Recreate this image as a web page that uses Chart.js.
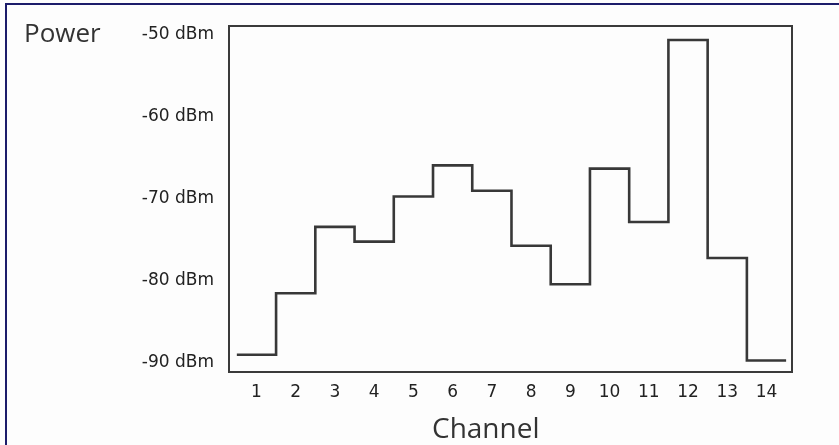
<!DOCTYPE html>
<html>
<head>
<meta charset="utf-8">
<script src="https://cdn.jsdelivr.net/npm/chart.js@4.4.0/dist/chart.umd.min.js"></script>
<style>
  html, body { margin: 0; padding: 0; background: #fdfdfd; }
  #wrap { position: relative; width: 839px; height: 445px; overflow: hidden; background: #fdfdfd; }
  #frame { position: absolute; left: 5px; top: 3px; right: -4px; bottom: -4px; border-left: 2px solid #1c1c6a; border-top: 2px solid #1c1c6a; }
  #chart { position: absolute; left: 0; top: 0; }
  .lbl { position: absolute; font-family: "Open Sans", sans-serif; color: #333; line-height: 1; white-space: nowrap; }
  #power { left: 24px; top: 19px; font-size: 26px; }
  #channel { left: 432px; top: 413px; font-size: 28px; }
</style>
</head>
<body>
<div id="wrap">
  <div id="frame"></div>
  <canvas id="chart" width="839" height="445"></canvas>
  <div class="lbl" id="power">Power</div>
  <div class="lbl" id="channel">Channel</div>
</div>
<script>
// Valores (dBm por canal)
const channels = [1, 2, 3, 4, 5, 6, 7, 8, 9, 10, 11, 12, 13, 14];
const power = [-89.0, -81.5, -73.4, -75.2, -69.7, -65.9, -69.0, -75.7, -80.4, -66.3, -72.8, -50.6, -77.2, -89.7];
const yTicks = [-90, -80, -70, -60, -50];

// cada canal vira um degrau horizontal com a largura de um canal
const stepPoints = [];
channels.forEach((ch, i) => {
    stepPoints.push({ x: ch - 0.5, y: power[i] });
    stepPoints.push({ x: ch + 0.5, y: power[i] });
});

const frameBox = {
    id: 'frameBox',
    beforeDatasetsDraw(chart) {
        const a = chart.chartArea;
        const ctx = chart.ctx;
        ctx.save();
        ctx.strokeStyle = '#3a3a3a';
        ctx.lineWidth = 2;
        ctx.strokeRect(a.left, a.top, a.right - a.left, a.bottom - a.top);
        ctx.restore();
    }
};

const ctx = document.getElementById('chart').getContext('2d');
new Chart(ctx, {
    type: 'line',
    data: {
        datasets: [{
            data: stepPoints,
            borderColor: '#383838',
            borderWidth: 2.6,
            pointRadius: 0,
            tension: 0,
            fill: false,
            borderJoinStyle: 'miter'
        }]
    },
    options: {
        responsive: false,
        animation: false,
        events: [],
        layout: { padding: { top: 26, right: 47, bottom: 0, left: 0 } },
        plugins: { legend: { display: false }, tooltip: { enabled: false } },
        scales: {
            x: {
                type: 'linear',
                min: 0.3,
                max: 14.65,
                afterFit: s => { s.height = 73; },
                afterBuildTicks: s => { s.ticks = channels.map(c => ({ value: c })); },
                grid: { display: false, drawTicks: false },
                border: { display: false },
                ticks: {
                    autoSkip: false,
                    maxRotation: 0,
                    padding: 10,
                    color: '#222',
                    font: { family: 'DejaVu Sans', size: 17 },
                    callback: v => String(v)
                }
            },
            y: {
                min: -91.1,
                max: -48.9,
                afterFit: s => { s.width = 229; },
                afterBuildTicks: s => { s.ticks = yTicks.map(v => ({ value: v })); },
                grid: { display: false, drawTicks: false },
                border: { display: false },
                ticks: {
                    padding: 15,
                    color: '#222',
                    font: { family: 'DejaVu Sans', size: 17 },
                    callback: v => v + ' dBm'
                }
            }
        }
    },
    plugins: [frameBox]
});
</script>
</body>
</html>
